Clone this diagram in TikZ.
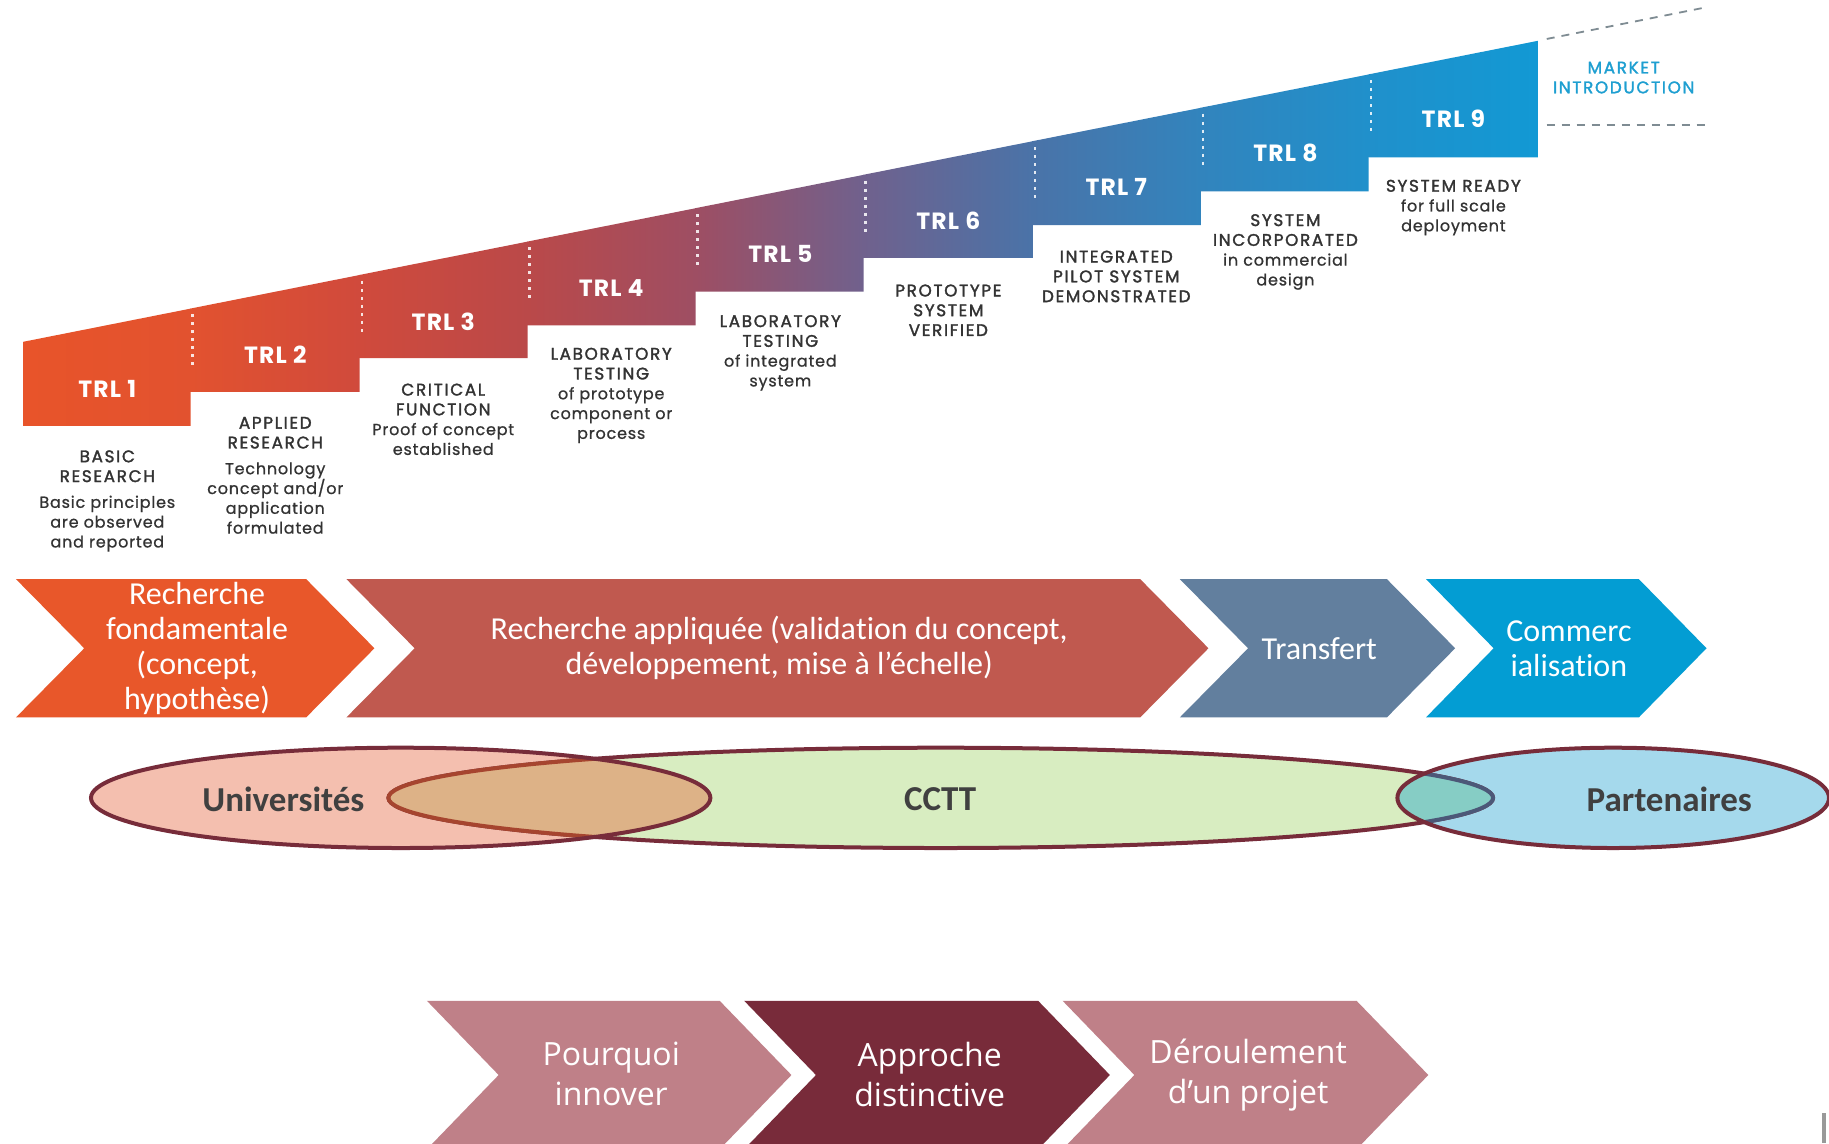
\documentclass[tikz,border=0pt]{standalone}
\usepackage{fontspec}
\setmainfont[Ligatures=NoCommon]{Carlito}
\newfontfamily\gfont[LetterSpace=5,FakeBold=0.8]{Poppins}
\newfontfamily\gnum[LetterSpace=5]{Poppins}
\newfontfamily\gsemi[LetterSpace=10,FakeBold=1.8]{Poppins}
\newfontfamily\osans{Open Sans}
\newcommand\hd{\gsemi\fontsize{16.8}{19.8}\selectfont}

\definecolor{g0}{HTML}{E8542A}
\definecolor{g1}{HTML}{E2522F}
\definecolor{g2}{HTML}{D04A3C}
\definecolor{g3}{HTML}{BA4949}
\definecolor{g4}{HTML}{9E4E63}
\definecolor{g5}{HTML}{70618D}
\definecolor{g6}{HTML}{4A73A8}
\definecolor{g7}{HTML}{3284BD}
\definecolor{g8}{HTML}{2090CB}
\definecolor{g9}{HTML}{1299D4}
\definecolor{txtgray}{HTML}{333333}
\definecolor{mkt}{HTML}{1E9FD1}
\definecolor{dashgray}{HTML}{7F8C93}
\definecolor{chA}{HTML}{E8572A}
\definecolor{chB}{HTML}{C0594F}
\definecolor{chC}{HTML}{627F9E}
\definecolor{chD}{HTML}{039DD3}
\definecolor{uniF}{HTML}{F4BFAF}
\definecolor{ctF}{HTML}{D8EDC1}
\definecolor{paF}{HTML}{A5D9EC}
\definecolor{ovUC}{HTML}{DDB287}
\definecolor{ovCP}{HTML}{86CDC5}
\definecolor{ellline}{HTML}{772C3A}
\definecolor{ovlineA}{HTML}{A6452F}
\definecolor{ovlineB}{HTML}{4C5878}
\definecolor{ellgray}{HTML}{404040}
\definecolor{pinkch}{HTML}{BF8088}
\definecolor{maroonch}{HTML}{782B3A}

\newcommand\trlstep[7]{\shade[left color=#6,right color=#7] (#1,#5) -- (#1,#3) -- ({#2+0.4},#4) -- ({#2+0.4},#5) -- cycle;}
\newcommand\trldots[3]{\draw[dotline] ({#1+2},{#2+5}) -- ({#1+2},#3);}
\newcommand\mychev[6]{\fill[#6] (#1,#3) -- (#2,#3) -- ({#2+#5},{(#3+#4)/2}) -- (#2,#4) -- (#1,#4) -- ({#1+#5},{(#3+#4)/2}) -- cycle;}

\tikzset{
  dotline/.style={white, opacity=.85, line width=2.2pt, dash pattern=on 3pt off 5pt},
  trlnum/.style={font=\gnum\bfseries\fontsize{23.5}{26}\selectfont, text=white, inner sep=0pt},
  trldesc/.style={font=\gfont\fontsize{16}{19.8}\selectfont, text=txtgray, align=center, inner sep=0pt},
  mktxt/.style={font=\hd, text=mkt, align=center, inner sep=0pt},
  chevtxt/.style={font=\fontsize{32}{35}\selectfont, text=white, align=center, inner sep=0pt},
  botxt/.style={font=\osans\fontsize{32}{40}\selectfont, text=white, align=center, inner sep=0pt},
  elltxt/.style={font=\bfseries\fontsize{35}{40}\selectfont, text=ellgray, inner sep=0pt},
  dashln/.style={dashgray, line width=1.8pt, dash pattern=on 8pt off 7pt},
  ellout/.style={ellline, line width=4pt},
}

\begin{document}
\begin{tikzpicture}[x=1.1665pt, y=-1.1665pt]
\useasboundingbox (0,0) rectangle (1568,980);
\clip (0,0) rectangle (1568,980);
\fill[white] (0,0) rectangle (1568,980);

% ---- staircase ----
\trlstep{20}{163}{293}{264.58}{365}{g0}{g1}
\trlstep{163}{308}{264.58}{235.75}{336}{g1}{g2}
\trlstep{308}{452}{235.75}{207.13}{307}{g2}{g3}
\trlstep{452}{596}{207.13}{178.51}{279}{g3}{g4}
\trlstep{596}{740}{178.51}{149.89}{250}{g4}{g5}
\trlstep{740}{885}{149.89}{121.07}{221}{g5}{g6}
\trlstep{885}{1029}{121.07}{92.44}{193}{g6}{g7}
\trlstep{1029}{1173}{92.44}{63.82}{164}{g7}{g8}
\trlstep{1173}{1318}{63.82}{35.0}{135}{g8}{g9}

\trldots{163}{264.58}{314}
\trldots{308}{235.75}{285}
\trldots{452}{207.13}{257}
\trldots{596}{178.51}{228}
\trldots{740}{149.89}{199}
\trldots{885}{121.07}{171}
\trldots{1029}{92.44}{142}
\trldots{1173}{63.82}{113}

\draw[dashln] (1326,33.4) -- (1462,6.4);
\draw[dashln] (1326,107.5) -- (1462,107.5);
\node[mktxt] (mkt) at (1392,66.5) {MARKET\\INTRODUCTION};

\node[trlnum] (t1) at (92,333) {TRL 1};
\node[trlnum] (t2) at (236,304) {TRL 2};
\node[trlnum] (t3) at (380,276) {TRL 3};
\node[trlnum] (t4) at (524,247) {TRL 4};
\node[trlnum] (t5) at (669,218) {TRL 5};
\node[trlnum] (t6) at (813,189) {TRL 6};
\node[trlnum] (t7) at (957,160) {TRL 7};
\node[trlnum] (t8) at (1102,131) {TRL 8};
\node[trlnum] (t9) at (1246,102) {TRL 9};

\node[trldesc] (d1) at (92,429.5) {\hd BASIC\\\hd RESEARCH\\[6pt]Basic principles\\are observed\\and reported};
\node[trldesc] (d2) at (236,407.5) {\hd APPLIED\\\hd RESEARCH\\[6pt]Technology\\concept and/or\\application\\formulated};
\node[trldesc] (d3) at (380,359.5) {\hd CRITICAL\\\hd FUNCTION\\Proof of concept\\established};
\node[trldesc] (d4) at (524,339) {\hd LABORATORY\\\hd TESTING\\of prototype\\component or\\process};
\node[trldesc] (d5) at (669,302.5) {\hd LABORATORY\\\hd TESTING\\of integrated\\system};
\node[trldesc] (d6) at (813,266) {\hd PROTOTYPE\\\hd SYSTEM\\\hd VERIFIED};
\node[trldesc] (d7) at (957,237) {\hd INTEGRATED\\\hd PILOT SYSTEM\\\hd DEMONSTRATED};
\node[trldesc] (d8) at (1102,216) {\hd SYSTEM\\\hd INCORPORATED\\in commercial\\design};
\node[trldesc] (d9) at (1246,178) {\hd SYSTEM READY\\for full scale\\deployment};

% ---- middle chevrons ----
\mychev{13.7}{262.5}{496.5}{615}{58.5}{chA}
\mychev{297}{977.5}{496.5}{615}{58.5}{chB}
\mychev{1011.5}{1189}{496.5}{615}{58.5}{chC}
\mychev{1222.5}{1405}{496.5}{615}{58}{chD}
\node[chevtxt] (m1) at (169,556) {Recherche\\fondamentale\\(concept,\\hypothèse)};
\node[chevtxt] (m2) at (668,555) {Recherche appliquée (valida\kern0pt tion du concept,\\développement, mise à l’échelle)};
\node[chevtxt] (m3) at (1131,556) {Transfert};
\node[chevtxt] (m4) at (1345,556) {Commerc\\ialisation};

% ---- ellipses ----
\fill[ctF] (806.5,684) ellipse [x radius=473.5, y radius=43];
\fill[uniF] (343.5,684) ellipse [x radius=265.5, y radius=43];
\fill[paF] (1383,684) ellipse [x radius=185, y radius=43];
\draw[ellout] (806.5,684) ellipse [x radius=473.5, y radius=43];
\begin{scope}
  \clip (343.5,684) ellipse [x radius=265.5, y radius=43];
  \fill[ovUC] (806.5,684) ellipse [x radius=473.5, y radius=43];
  \draw[ovlineA, line width=4pt] (806.5,684) ellipse [x radius=473.5, y radius=43];
\end{scope}
\begin{scope}
  \clip (1383,684) ellipse [x radius=185, y radius=43];
  \fill[ovCP] (806.5,684) ellipse [x radius=473.5, y radius=43];
  \draw[ovlineB, line width=4pt] (806.5,684) ellipse [x radius=473.5, y radius=43];
\end{scope}
\draw[ellout] (343.5,684) ellipse [x radius=265.5, y radius=43];
\draw[ellout] (1383,684) ellipse [x radius=185, y radius=43];
\node[elltxt] (uni) at (243,685) {Universités};
\node[elltxt] (cctt) at (806,685) {CCTT};
\node[elltxt] (part) at (1431,685) {Partenaires};

% ---- bottom chevrons ----
\mychev{366}{617}{858}{985.2}{61.5}{pinkch}
\mychev{638}{890}{858}{985.2}{61.5}{maroonch}
\mychev{911}{1163}{858}{985.2}{61.5}{pinkch}
\node[botxt] (b1) at (524,921) {Pourquoi\\innover};
\node[botxt] (b2) at (797,921) {Approche\\distinctive};
\node[botxt] (b3) at (1070,922) {Déroulement\\d’un projet};

\fill[gray!80] (1562,954) rectangle (1565,980);
\end{tikzpicture}
\end{document}
